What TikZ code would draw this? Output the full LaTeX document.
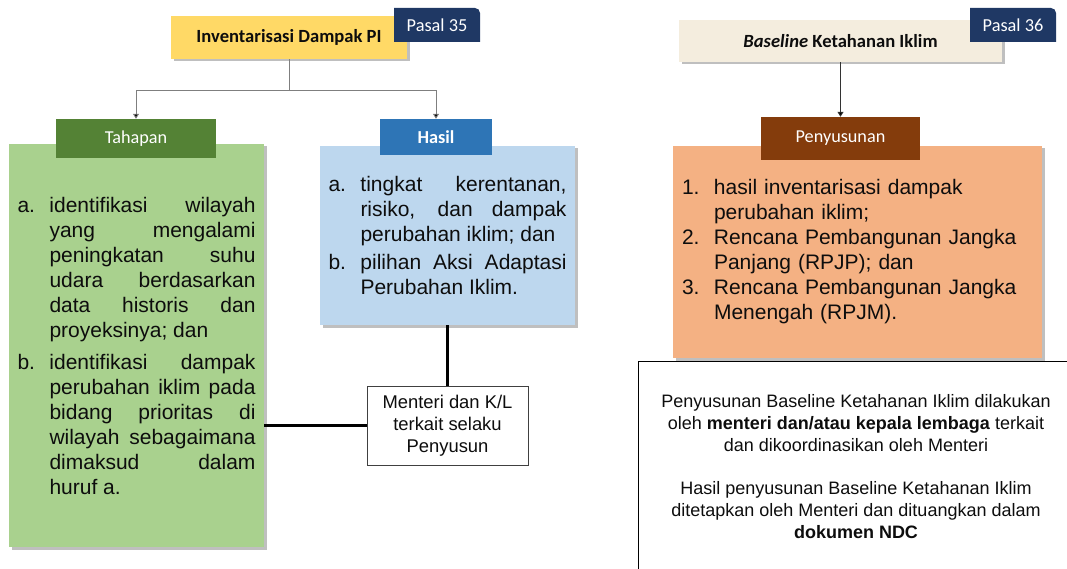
\documentclass[tikz,border=0pt]{standalone}
\usepackage{fontspec}
\setmainfont{Liberation Sans}
\newfontfamily\calib{Carlito}
\usetikzlibrary{arrows.meta,shadows}

\definecolor{hdryellow}{HTML}{FFD966}
\definecolor{hdrcream}{HTML}{F4EDDE}
\definecolor{pasalnavy}{HTML}{1F3864}
\definecolor{tabgreen}{HTML}{548235}
\definecolor{panelgreen}{HTML}{A9D18E}
\definecolor{tabblue}{HTML}{2E75B6}
\definecolor{panelblue}{HTML}{BDD7EE}
\definecolor{tabbrown}{HTML}{843C0C}
\definecolor{panelorange}{HTML}{F4B183}
\definecolor{linegray}{HTML}{7F7F7F}
\definecolor{ink}{HTML}{0D0D0D}

% list label column and justified list line
\newcommand{\lbl}[1]{\makebox[32pt][l]{#1}}
\newcommand{\jl}[1]{\makebox[206pt][s]{#1}}

\begin{document}
\begin{tikzpicture}[x=1pt,y=-1pt,
  shade box/.style={drop shadow={shadow xshift=2.5pt,shadow yshift=-2.5pt,opacity=0.25,fill=black}},
  header/.style={rectangle,inner sep=0pt,shade box,text=ink,
    font=\calib\bfseries\fontsize{18.6}{22}\selectfont},
  pasal/.style={text=white,inner sep=0pt,font=\calib\fontsize{18.3}{22}\selectfont},
  tab/.style={rectangle,inner sep=0pt,text=white,font=\calib\fontsize{18.2}{22}\selectfont},
  panel/.style={rectangle,inner sep=0pt,shade box,text=ink,align=left,
    font=\fontsize{21}{25}\selectfont},
  conn/.style={draw=linegray,line width=0.9pt,-{Triangle[width=6pt,length=5pt,fill=black]}},
  link/.style={draw=black,line width=2.2pt},
]
\useasboundingbox (0,0) rectangle (1067,569);

% ---------- Pasal 35 ----------
\node[header,fill=hdryellow,minimum width=236pt,minimum height=43pt]
  (inv) at (289,37.5) {Inventarisasi Dampak PI};
\fill[pasalnavy] (394,42) -- (394,8) [rounded corners=5pt] -- (480,8) [sharp corners] -- (480,42) -- cycle;
\node[pasal] (p35) at (437,25) {Pasal 35};

\node[panel,fill=panelgreen,minimum width=255pt,minimum height=403pt]
  (green) at (136.5,345.5) {%
  \lbl{a.}\jl{identifikasi wilayah}\\
  \lbl{}\jl{yang mengalami}\\
  \lbl{}\jl{peningkatan suhu}\\
  \lbl{}\jl{udara berdasarkan}\\
  \lbl{}\jl{data historis dan}\\
  \lbl{}proyeksinya; dan\\[7pt]
  \lbl{b.}\jl{identifikasi dampak}\\
  \lbl{}\jl{perubahan iklim pada}\\
  \lbl{}\jl{bidang prioritas di}\\
  \lbl{}\jl{wilayah sebagaimana}\\
  \lbl{}\jl{dimaksud dalam}\\
  \lbl{}huruf a.};

\node[panel,fill=panelblue,minimum width=255pt,minimum height=179pt]
  (blue) at (447.5,235.5) {%
  \lbl{a.}\jl{tingkat kerentanan,}\\
  \lbl{}\jl{risiko, dan dampak}\\
  \lbl{}perubahan iklim; dan\\[3pt]
  \lbl{b.}\jl{pilihan Aksi Adaptasi}\\
  \lbl{}Perubahan Iklim.};

\node[tab,fill=tabgreen,minimum width=160pt,minimum height=39pt]
  (tah) at (136,138.5) {Tahapan};
\node[tab,fill=tabblue,minimum width=112pt,minimum height=36pt,font=\calib\bfseries\fontsize{18.3}{22}\selectfont]
  (hasil) at (436,137) {Hasil};

\node[rectangle,draw=black!75,line width=0.8pt,fill=white,minimum width=161pt,
  minimum height=79pt,align=center,text=ink,font=\fontsize{18.4}{22}\selectfont]
  (men) at (447.5,425.5) {Menteri dan K/L\\terkait selaku\\Penyusun};

\draw[conn] (inv.south) -- ++(0,31) -| (tah.north);
\draw[conn] (inv.south) -- ++(0,31) -| (hasil.north);
\draw[link] (blue.south) -- (men.north);
\draw[link] (green.east |- men.west) -- (men.west);

% ---------- Pasal 36 ----------
\node[header,fill=hdrcream,minimum width=323pt,minimum height=42pt]
  (base) at (840.5,41) {\textit{Baseline} Ketahanan Iklim};
\fill[pasalnavy] (970,42) -- (970,8) [rounded corners=5pt] -- (1056,8) [sharp corners] -- (1056,42) -- cycle;
\node[pasal] (p36) at (1013,25) {Pasal 36};

\node[panel,fill=panelorange,minimum width=369pt,minimum height=212pt,
  text width=351pt,inner xsep=9pt]
  (orange) at (857.5,252) {%
  \lbl{1.}hasil inventarisasi dampak\\
  \lbl{}perubahan iklim;\\
  \lbl{2.}Rencana Pembangunan Jangka\\
  \lbl{}Panjang (RPJP); dan\\
  \lbl{3.}Rencana Pembangunan Jangka\\
  \lbl{}Menengah (RPJM).};

\node[tab,fill=tabbrown,minimum width=159pt,minimum height=43pt]
  (pen) at (840.5,138.5) {Penyusunan};

\draw[conn,draw=black!80] (base.south) -- (pen.north);

% framed note, open towards the page edges
\draw[black,line width=0.9pt] (638,569) -- (638,361) -- (1067,361);
\node[align=center,text=ink,font=\fontsize{18}{22}\selectfont]
  (note) at (856,467) {%
  Penyusunan Baseline Ketahanan Iklim dilakukan\\
  oleh \textbf{menteri dan/atau kepala lembaga} terkait\\
  dan dikoordinasikan oleh Menteri\\[21pt]
  Hasil penyusunan Baseline Ketahanan Iklim\\
  ditetapkan oleh Menteri dan dituangkan dalam\\
  \textbf{dokumen NDC}};
\end{tikzpicture}
\end{document}
